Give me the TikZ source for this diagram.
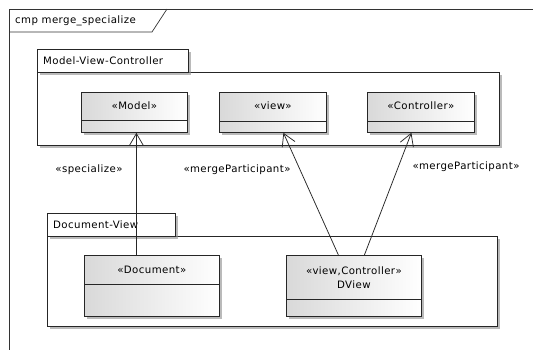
\documentclass[tikz,border=0pt]{standalone}
\usepackage{fontspec}
\setmainfont{DejaVu Sans}[LetterSpace=4]
\usetikzlibrary{arrows.meta,shadows,calc}
\begin{document}
\begin{tikzpicture}[x=1pt,y=-1pt,
  lbl/.style={font=\fontsize{10.2}{12}\selectfont, inner sep=0pt},
  shad/.style={drop shadow={shadow xshift=3pt,shadow yshift=-3pt,fill=black!45,opacity=0.6}},
  cls/.style={draw=black!85, line width=0.8pt, left color=black!15, middle color=white, right color=white, shad, inner sep=0pt, anchor=north west},
  pkg/.style={draw=black!85, line width=0.8pt, fill=white, shad, inner sep=0pt, anchor=north west},
  dep/.style={draw=black!85, line width=0.75pt, -{Straight Barb[length=12pt,width=14pt,line width=0.75pt]}}
]
\useasboundingbox (0,0) rectangle (533,349);
% frame
\draw[black!80, line width=0.7pt] (9,360) -- (9,9) -- (545,9);
\draw[black!80, line width=0.7pt] (9,32) -- (152,32) -- (167,9);
\node[lbl, anchor=west] (title) at (15,20.5) {cmp merge\_specialize};

% Model-View-Controller package
\node[pkg, minimum width=462pt, minimum height=73pt] (mvc) at (37,72) {};
\node[pkg, minimum width=151pt, minimum height=23pt] (mvctab) at (37,49) {};
\node[lbl, anchor=west] (mvcname) at (43,60.5) {Model-View-Controller};

% Document-View package
\node[pkg, minimum width=450pt, minimum height=90pt] (dv) at (47,236) {};
\node[pkg, minimum width=128pt, minimum height=23pt] (dvtab) at (47,213) {};
\node[lbl, anchor=west] (dvname) at (53,224.5) {Document-View};

% classes
\node[cls, minimum width=106pt, minimum height=40pt] (model) at (81,92) {};
\draw[black!85, line width=0.8pt] (model.west |- 0,120) -- (model.east |- 0,120);
\node[lbl] (modelt) at ($(model.north)+(0,14)$) {«Model»};

\node[cls, minimum width=107pt, minimum height=40pt] (view) at (219,92) {};
\draw[black!85, line width=0.8pt] (view.west |- 0,121) -- (view.east |- 0,121);
\node[lbl] (viewt) at ($(view.north)+(0,14)$) {«view»};

\node[cls, minimum width=107pt, minimum height=40pt] (ctrl) at (367,92) {};
\draw[black!85, line width=0.8pt] (ctrl.west |- 0,121) -- (ctrl.east |- 0,121);
\node[lbl] (ctrlt) at ($(ctrl.north)+(0,14)$) {«Controller»};

\node[cls, minimum width=135pt, minimum height=61pt] (doc) at (84,255) {};
\draw[black!85, line width=0.8pt] (doc.west |- 0,284) -- (doc.east |- 0,284);
\node[lbl] (doct) at ($(doc.north)+(0,15)$) {«Document»};

\node[cls, minimum width=135pt, minimum height=61pt] (dview) at (286,255) {};
\draw[black!85, line width=0.8pt] (dview.west |- 0,299) -- (dview.east |- 0,299);
\node[lbl] (dviewt) at ($(dview.north)+(0,16)$) {«view,Controller»};
\node[lbl] (dviewn) at ($(dview.north)+(0,30)$) {DView};

% connectors
\coordinate (mtip) at ($(model.south)+(2,0)$);
\draw[dep] (doc.north -| mtip) -- (mtip);
\draw[dep] ($(dview.north)+(-15.5,0)$) -- ($(view.south)+(10.5,0)$);
\draw[dep] ($(dview.north)+(10.5,0)$) -- ($(ctrl.south)+(-9.5,0)$);

% labels
\node[lbl] (l1) at (89,170) {«specialize»};
\node[lbl] (l2) at (237,170) {«mergeParticipant»};
\node[lbl] (l3) at (466,167) {«mergeParticipant»};
\end{tikzpicture}
\end{document}
